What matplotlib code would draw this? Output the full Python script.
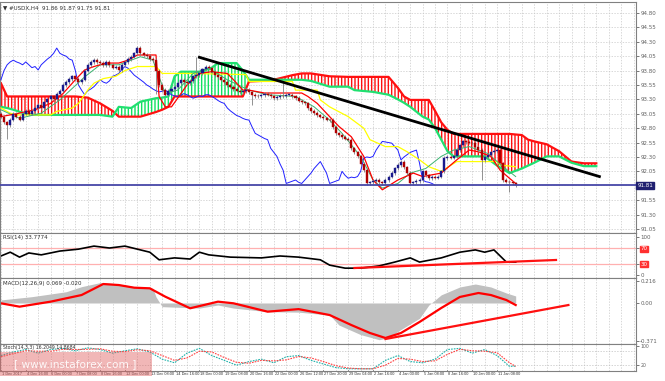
import matplotlib.pyplot as plt
from matplotlib.patches import Rectangle

# ---- data (bar index = H4 bar from the left edge) ----
closes = [93.00, 92.90, 92.85, 92.95, 93.05, 93.00, 92.95, 93.05, 93.10, 93.05,
          93.10, 93.15, 93.20, 93.15, 93.25, 93.30, 93.35, 93.30, 93.40, 93.45,
          93.55, 93.60, 93.65, 93.70, 93.65, 93.60, 93.64, 93.80, 93.90, 93.95,
          93.98, 93.95, 93.93, 93.90, 93.95, 93.90, 93.85, 93.87, 93.81, 93.90,
          93.95, 94.00, 94.04, 94.10, 94.19, 94.10, 94.07, 94.05, 94.00, 93.98,
          93.80, 93.55, 93.46, 93.38, 93.45, 93.48, 93.52, 93.58, 93.64, 93.60,
          93.58, 93.62, 93.70, 93.72, 93.75, 93.82, 93.87, 93.84, 93.78, 93.72,
          93.68, 93.64, 93.60, 93.55, 93.52, 93.48, 93.45, 93.43, 93.44, 93.46,
          93.42, 93.38, 93.36, 93.35, 93.37, 93.40, 93.38, 93.35, 93.32, 93.34,
          93.36, 93.35, 93.38, 93.38, 93.35, 93.32, 93.28, 93.25, 93.23, 93.15,
          93.10, 93.06, 93.02, 93.00, 92.97, 92.95, 92.94, 92.82, 92.71, 92.68,
          92.65, 92.62, 92.60, 92.45, 92.38, 92.31, 92.18, 92.07, 91.84, 91.86,
          91.88, 91.90, 91.86, 91.84, 91.90, 91.96, 92.02, 92.10, 92.16, 92.22,
          92.12, 92.02, 91.84, 91.86, 91.88, 91.90, 92.05, 91.98, 91.93, 91.95,
          91.94, 91.96, 92.05, 92.28, 92.30, 92.29, 92.31, 92.42, 92.50, 92.57,
          92.56, 92.55, 92.54, 92.48, 92.42, 92.25, 92.30, 92.34, 92.38, 92.40,
          92.42, 92.19, 91.90, 91.87, 91.86, 91.84, 91.81]
first_open = 93.05
wick_highs = {44: 94.22, 91: 93.58, 63: 94.03}
wick_lows = {2: 92.62, 81: 93.20, 155: 91.90, 164: 91.70, 50: 93.40}

time_labels = ["1 Dec 2017", "4 Dec 16:00", "6 Dec 00:00", "7 Dec 08:00", "8 Dec 16:00",
               "12 Dec 00:00", "13 Dec 08:00", "14 Dec 16:00", "18 Dec 00:00", "19 Dec 08:00",
               "20 Dec 16:00", "22 Dec 00:00", "26 Dec 12:00", "27 Dec 20:00", "29 Dec 04:00",
               "2 Jan 16:00", "4 Jan 00:00", "5 Jan 08:00", "8 Jan 16:00", "10 Jan 00:00",
               "11 Jan 08:00"]

cloud_bars = [0, 2, 4, 8, 11, 16, 20, 24, 28, 32, 36, 38, 42, 45, 50, 52, 54, 56, 58, 64,
              68, 70, 76, 78, 80, 84, 88, 94, 97, 100, 106, 112, 114, 120, 125, 128, 130, 132,
              136, 138, 140, 142, 144, 146, 150, 156, 160, 164, 168, 170, 172, 176, 180, 184,
              188, 192]
span_a = [93.17, 93.15, 93.12, 93.05, 93.03, 93.03, 93.03, 93.03, 93.03, 93.03, 93.00, 93.17,
          93.15, 93.26, 93.32, 93.33, 93.35, 93.70, 93.78, 93.78, 93.85, 93.93, 93.93, 93.80,
          93.64, 93.64, 93.64, 93.64, 93.64, 93.62, 93.52, 93.52, 93.46, 93.43, 93.38, 93.30,
          93.24, 93.17, 93.00, 92.95, 92.80, 92.60, 92.40, 92.31, 92.31, 92.31, 92.15, 92.02,
          92.10, 92.15, 92.20, 92.31, 92.31, 92.20, 92.14, 92.14]
span_b = [93.58, 93.35, 93.35, 93.35, 93.35, 93.35, 93.35, 93.35, 93.33, 93.23, 93.10, 93.00,
          93.00, 93.00, 93.08, 93.12, 93.17, 93.35, 93.35, 93.35, 93.35, 93.35, 93.35, 93.35,
          93.61, 93.62, 93.64, 93.72, 93.75, 93.75, 93.70, 93.69, 93.69, 93.69, 93.69, 93.50,
          93.35, 93.29, 93.29, 93.29, 93.10, 92.90, 92.77, 92.70, 92.70, 92.70, 92.70, 92.70,
          92.68, 92.60, 92.57, 92.52, 92.40, 92.22, 92.19, 92.19]

tenkan_bars = [0, 5, 11, 16, 20, 24, 27, 30, 34, 38, 41, 44, 48, 50, 51, 53, 55, 57, 60, 64,
               68, 73, 75, 78, 80, 85, 97, 99, 102, 106, 109, 113, 117, 120, 123, 128, 133,
               136, 142, 147, 151, 154, 158, 161, 164, 166]
tenkan = [93.00, 93.05, 93.12, 93.23, 93.40, 93.64, 93.81, 93.87, 93.93, 93.93, 93.98, 94.07,
          94.07, 94.07, 93.35, 93.17, 93.17, 93.32, 93.55, 93.75, 93.78, 93.75, 93.64, 93.46,
          93.46, 93.41, 93.41, 93.35, 93.23, 93.00, 92.83, 92.65, 92.31, 91.90, 91.73, 91.90,
          92.02, 91.96, 92.02, 92.25, 92.42, 92.39, 92.31, 92.07, 91.93, 91.84]

kijun_bars = [0, 3, 5, 16, 18, 23, 25, 28, 30, 33, 37, 40, 44, 50, 52, 60, 79, 80, 94, 95,
              102, 103, 106, 112, 117, 119, 124, 128, 131, 135, 138, 142, 147, 160, 161, 166]
kijun = [93.15, 93.06, 93.03, 93.03, 93.09, 93.15, 93.23, 93.46, 93.58, 93.66, 93.70, 93.80,
         93.87, 93.87, 93.75, 93.75, 93.73, 93.61, 93.61, 93.46, 93.46, 93.29, 93.17, 93.00,
         92.80, 92.60, 92.48, 92.48, 92.39, 92.25, 92.13, 92.05, 92.22, 92.22, 92.16, 92.13]

ma_bars = [0, 6, 13, 19, 27, 32, 38, 45, 49, 53, 57, 62, 67, 73, 80, 86, 95, 101, 106, 110,
           116, 120, 123, 128, 132, 137, 142, 146, 151, 157, 162, 166]
ma = [93.12, 92.97, 93.06, 93.29, 93.69, 93.90, 93.90, 94.04, 93.98, 93.40, 93.46, 93.75,
      93.84, 93.64, 93.46, 93.38, 93.35, 93.17, 92.94, 92.71, 92.31, 91.90, 91.76, 91.84,
      92.02, 92.10, 92.31, 92.42, 92.48, 92.36, 92.13, 91.96]

trend_bars = [64, 193]
trend_prices = [94.03, 91.96]

rsi_bars = [0, 3, 6, 9, 13, 19, 25, 30, 35, 40, 45, 48, 51, 56, 61, 64, 67, 74, 84, 90, 96,
            103, 106, 111, 116, 122, 127, 132, 135, 142, 148, 153, 156, 159, 163, 166]
rsi = [50, 60, 47, 58, 53, 63, 68, 76, 71, 76, 66, 60, 40, 45, 42, 60, 53, 47, 45, 50, 47,
       40, 26, 18, 18, 24, 34, 45, 34, 45, 60, 66, 60, 66, 34, 33.8]
rsi_trend_bars = [114, 179]
rsi_trend = [18.4, 39.5]

macd_bars = [0, 10, 21, 26, 32, 37, 43, 49, 50, 52, 64, 70, 75, 86, 96, 106, 109, 116, 122,
             125, 129, 135, 138, 142, 148, 153, 158, 163, 166]
macd = [0.03, 0.062, 0.11, 0.16, 0.20, 0.19, 0.16, 0.144, 0.06, -0.036, -0.05, -0.02, -0.05,
        -0.085, -0.09, -0.118, -0.216, -0.31, -0.36, -0.34, -0.26, -0.15, -0.02, 0.08, 0.157,
        0.186, 0.157, 0.098, 0.069]
signal_bars = [0, 6, 16, 26, 33, 38, 43, 48, 53, 61, 70, 75, 86, 96, 106, 113, 119, 124, 129,
               135, 142, 148, 154, 158, 163, 166]
signal = [-0.003, -0.036, 0.013, 0.078, 0.186, 0.176, 0.15, 0.144, 0.062, -0.052, 0.013,
          -0.003, -0.085, -0.06, -0.118, -0.216, -0.294, -0.343, -0.294, -0.186, -0.049, 0.059,
          0.098, 0.078, 0.029, -0.02]
macd_trend_bars = [124, 183]
macd_trend = [-0.353, -0.02]

stoch_bars = [0, 4, 8, 12, 16, 20, 24, 28, 32, 36, 40, 44, 48, 52, 56, 60, 64, 68, 72, 76, 80,
              84, 88, 92, 96, 100, 104, 108, 112, 116, 120, 124, 128, 132, 136, 140, 144, 148,
              152, 156, 160, 164, 166]
stoch_main = [60, 75, 85, 70, 85, 90, 80, 92, 85, 70, 80, 88, 75, 45, 30, 70, 90, 60, 40, 20,
              35, 45, 30, 55, 60, 40, 25, 10, 5, 5, 5, 40, 60, 35, 30, 45, 85, 90, 70, 85, 60,
              15, 16]
stoch_signal = [55, 68, 80, 78, 78, 86, 85, 86, 88, 78, 76, 84, 80, 60, 40, 50, 78, 75, 52, 32,
                28, 40, 38, 42, 56, 50, 35, 18, 8, 5, 5, 20, 48, 45, 35, 38, 65, 86, 80, 78, 72,
                30, 15]

price_ticks = [94.80, 94.55, 94.30, 94.05, 93.80, 93.55, 93.30, 93.05, 92.80, 92.55, 92.30,
               92.05, 91.55, 91.30, 91.05]
last_price = 91.81

# ---- figure ----
W, H = 665, 381
fig = plt.figure(figsize=(W / 100, H / 100), dpi=100)
plt.rcParams['hatch.linewidth'] = 1.0
fs = 4.0
xmin, xmax = -0.3, 204.8


def axes_px(top, bottom):
    return fig.add_axes([0, 1 - bottom / H, 636 / W, (bottom - top) / H])


def style(ax):
    ax.set_xlim(xmin, xmax)
    for s in ax.spines.values():
        s.set_color('#808080')
        s.set_linewidth(0.8)
    ax.yaxis.tick_right()
    ax.tick_params(axis='y', direction='out', length=2, width=0.6, colors='#606060',
                   labelsize=fs, pad=1)
    ax.tick_params(axis='x', length=0, labelbottom=False)
    for b in range(0, 205, 4):
        ax.axvline(b, color='#c8c8c8', lw=0.5, ls=(0, (2, 2)), zorder=0)


ax = axes_px(2, 233)
ax_rsi = axes_px(233, 278)
ax_macd = axes_px(278, 344)
ax_st = axes_px(344, 371)
for a in (ax, ax_rsi, ax_macd, ax_st):
    style(a)

# main panel
ax.set_ylim(90.98, 94.99)
ax.set_yticks(price_ticks)
ax.set_yticklabels(['%.2f' % p for p in price_ticks])
for p in price_ticks + [last_price]:
    ax.axhline(p, color='#c8c8c8', lw=0.5, ls=(0, (2, 2)), zorder=0)

ax.fill_between(cloud_bars, span_a, span_b, where=[b >= a for a, b in zip(span_a, span_b)],
                interpolate=True, facecolor='none', edgecolor='#ff1010', hatch='|||||', lw=0,
                zorder=1)
ax.fill_between(cloud_bars, span_a, span_b, where=[a > b for a, b in zip(span_a, span_b)],
                interpolate=True, facecolor='none', edgecolor='#10e060', hatch='|||||', lw=0,
                zorder=1)
ax.plot(cloud_bars, span_b, color='#ff1010', lw=1.6, zorder=2)
ax.plot(cloud_bars, span_a, color='#20e070', lw=1.6, zorder=2)

n = len(closes)
bars = list(range(n))
ax.plot(bars[:n - 26], closes[26:], color='#2020ff', lw=0.7, zorder=3)
ax.plot(kijun_bars, kijun, color='#ffff00', lw=0.9, zorder=3)
ax.plot(ma_bars, ma, color='#3cb371', lw=0.7, zorder=3)
ax.plot(tenkan_bars, tenkan, color='#ff0000', lw=0.9, zorder=3)

opens = [first_open] + closes[:-1]
for i in range(n):
    o, c = opens[i], closes[i]
    hi = wick_highs.get(i, max(o, c) + 0.03)
    lo = wick_lows.get(i, min(o, c) - 0.03)
    col = '#1a1a8c' if c >= o else '#b00000'
    ax.vlines(i, lo, hi, color='#808080', lw=0.6, zorder=4)
    ax.add_patch(Rectangle((i - 0.33, min(o, c)), 0.66, max(abs(c - o), 0.01),
                           facecolor=col, edgecolor=col, lw=0.3, zorder=5))

ax.plot(trend_bars, trend_prices, color='black', lw=2.0, zorder=6)
ax.axhline(last_price, color='#4848a8', lw=1.3, zorder=6)
ax.text(1.002, last_price, '%.2f' % last_price, transform=ax.get_yaxis_transform(),
        ha='left', va='center', fontsize=fs, color='white', zorder=10, clip_on=False,
        bbox=dict(boxstyle='square,pad=0.15', fc='#202070', ec='#202070'))
ax.text(0.004, 0.985, '\u25bc #USDX,H4  91.86 91.87 91.75 91.81', transform=ax.transAxes,
        ha='left', va='top', fontsize=fs, color='#303030')

# RSI
ax_rsi.set_ylim(-7.9, 110.5)
ax_rsi.set_yticks([100, 70, 30, 0])
ax_rsi.set_yticklabels(['100', '70', '30', '0'])
for lv in (70, 30):
    ax_rsi.axhline(lv, color='#ffb0b0', lw=0.9)
for lbl in ax_rsi.get_yticklabels()[1:3]:
    lbl.set_color('white')
    lbl.set_bbox(dict(boxstyle='square,pad=0.1', fc='#ff3030', ec='#ff3030'))
ax_rsi.plot(rsi_bars, rsi, color='black', lw=1.2)
ax_rsi.plot(rsi_trend_bars, rsi_trend, color='#ff1010', lw=1.6)
ax_rsi.text(0.004, 0.96, 'RSI(14) 33.7774', transform=ax_rsi.transAxes, ha='left', va='top',
            fontsize=fs, color='#303030')

# MACD
ax_macd.set_ylim(-0.402, 0.245)
ax_macd.set_yticks([0.216, 0.0, -0.371])
ax_macd.set_yticklabels(['0.216', '0.00', '-0.371'])
ax_macd.fill_between(macd_bars, macd, 0, color='#c0c0c0', lw=0)
ax_macd.plot(signal_bars, signal, color='#ff0000', lw=1.6)
ax_macd.plot(macd_trend_bars, macd_trend, color='#ff1010', lw=1.6)
ax_macd.text(0.004, 0.96, 'MACD(12,26,9) 0.069 -0.020', transform=ax_macd.transAxes,
             ha='left', va='top', fontsize=fs, color='#303030')

# Stochastic
ax_st.set_ylim(-4.2, 108)
ax_st.set_yticks([100, 20])
ax_st.set_yticklabels(['100', '20'], fontsize=3.3)
for lv in (80, 20):
    ax_st.axhline(lv, color='#c0c0c0', lw=0.5, ls=(0, (2, 2)))
ax_st.plot(stoch_bars, stoch_main, color='#20b2aa', lw=0.8, ls=(0, (1.5, 1)))
ax_st.plot(stoch_bars, stoch_signal, color='#ff4040', lw=0.8, ls=(0, (1.5, 1)))
ax_st.text(0.004, 0.96, 'Stoch(14,3,3) 16.2049 14.8684', transform=ax_st.transAxes,
           ha='left', va='top', fontsize=3.3, color='#303030')

# time axis labels, shrunk until the widest one fits into one label slot
renderer = fig.canvas.get_renderer()
slot_px = 8 * 636 / (xmax - xmin) - 2
tsize = 4.0
probe = fig.text(0, 0, max(time_labels, key=len), fontsize=tsize, family='Liberation Sans')
width = probe.get_window_extent(renderer).width
probe.remove()
if width > slot_px:
    tsize = tsize * slot_px / width
for k, lbl in enumerate(time_labels):
    ax_st.text(k * 8 + 0.3, -0.05, lbl, transform=ax_st.get_xaxis_transform(), ha='left',
               va='top', fontsize=tsize, family='Liberation Sans', color='#303030')
    ax_st.plot([k * 8, k * 8], [-4.2, -1], color='#606060', lw=0.5, clip_on=False)

# watermark
fig.patches.append(Rectangle((0, 1 - 376 / H), 152 / W, 24 / H, transform=fig.transFigure,
                             facecolor='#e06060', alpha=0.45, edgecolor='none', zorder=8))
fig.text(75 / W, 1 - 364 / H, '[ www.instaforex.com ]', ha='center', va='center',
         fontsize=7.6, color='white', alpha=0.9, zorder=9)

fig.savefig('out.png', dpi=100, facecolor='white')
